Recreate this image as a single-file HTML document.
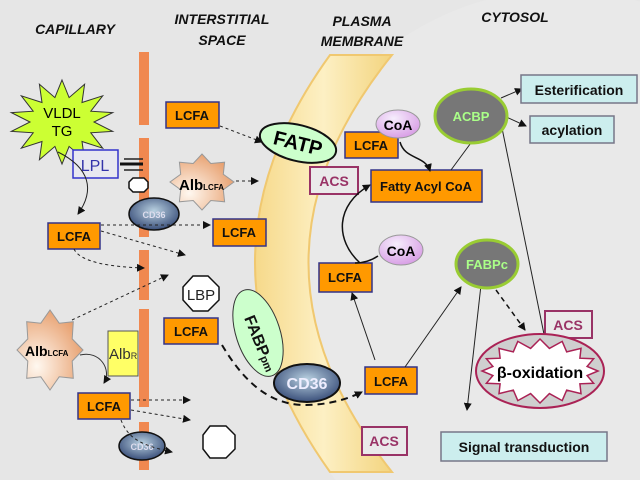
<!DOCTYPE html>
<html><head><meta charset="utf-8"><style>
html,body{margin:0;padding:0;background:#e6e6e6;width:640px;height:480px;overflow:hidden;}
svg{display:block;font-family:"Liberation Sans",Arial,sans-serif;}
</style></head><body>
<svg width="640" height="480" viewBox="0 0 640 480" xmlns="http://www.w3.org/2000/svg">
<defs>
<marker id="a" markerWidth="8" markerHeight="8" refX="7" refY="4" orient="auto" markerUnits="userSpaceOnUse"><path d="M0,0 L8,4 L0,8 z" fill="#111"/></marker>
<linearGradient id="mem" x1="0" y1="0" x2="1" y2="0"><stop offset="0" stop-color="#f6d98a"/><stop offset="0.5" stop-color="#fdf0c4"/><stop offset="1" stop-color="#f3d47e"/></linearGradient>
<radialGradient id="cd" cx="0.5" cy="0.4" r="0.6"><stop offset="0" stop-color="#b8d0e0"/><stop offset="1" stop-color="#3a4f7a"/></radialGradient>
<radialGradient id="alb" cx="0.3" cy="0.7" r="0.8"><stop offset="0" stop-color="#fff8f0"/><stop offset="1" stop-color="#e69a66"/></radialGradient>
<radialGradient id="coa" cx="0.4" cy="0.3" r="0.7"><stop offset="0" stop-color="#f6eefc"/><stop offset="1" stop-color="#d9a0e6"/></radialGradient>
</defs>
<rect width="640" height="480" fill="#e6e6e6"/>
<ellipse cx="560" cy="290" rx="290" ry="300" fill="#e9e9e9"/>

<g font-weight="bold" font-style="italic" font-size="14" fill="#111" text-anchor="middle">
<text x="75" y="34">CAPILLARY</text>
<text x="222" y="24">INTERSTITIAL</text><text x="222" y="45">SPACE</text>
<text x="362" y="26">PLASMA</text><text x="362" y="46">MEMBRANE</text>
<text x="515" y="22">CYTOSOL</text>
</g>

<path d="M330,55 Q180,262 330,472 L392,472 Q225,262 392,55 Z" fill="url(#mem)" stroke="#f0c870" stroke-width="2"/>

<g fill="#f08850">
<rect x="139" y="52" width="10" height="73"/>
<rect x="139" y="138" width="10" height="99"/>
<rect x="139" y="250" width="10" height="50"/>
<rect x="139" y="309" width="10" height="98"/>
<rect x="139" y="422" width="10" height="48"/>
</g>

<polygon points="62,80 69.1,97.6 84.6,84.2 82,102.5 102.7,95.8 90.8,111.2 112.7,112.6 94,122 112.7,131.4 90.8,132.8 102.7,148.2 82,141.5 84.6,159.8 69.1,146.4 62,164 54.9,146.4 39.4,159.8 42,141.5 21.3,148.2 33.2,132.8 11.3,131.4 30,122 11.3,112.6 33.2,111.2 21.3,95.8 42,102.5 39.4,84.2 54.9,97.6" fill="#ccff33" stroke="#333" stroke-width="1"/>
<text x="62" y="118" font-size="15" text-anchor="middle">VLDL</text>
<text x="62" y="136" font-size="15" text-anchor="middle">TG</text>

<rect x="73" y="150" width="45" height="28" fill="#e8e8f0" stroke="#3333cc" stroke-width="1.5"/>
<text x="95" y="171" font-size="16" fill="#3333aa" text-anchor="middle">LPL</text>
<line x1="124" y1="159" x2="143" y2="159" stroke="#222" stroke-width="1.5"/>
<line x1="120" y1="164" x2="143" y2="164" stroke="#111" stroke-width="3"/>
<line x1="124" y1="170" x2="143" y2="170" stroke="#222" stroke-width="1.5"/>
<polygon points="133,178 144,178 148,182 148,188 144,192 133,192 129,188 129,182" fill="#fff" stroke="#111" stroke-width="1.5"/>
<path d="M58,152 C90,168 95,190 78,214" fill="none" stroke="#222" stroke-width="1" marker-end="url(#a)"/>

<ellipse cx="154" cy="214" rx="25" ry="16" fill="url(#cd)" stroke="#111" stroke-width="1.5"/>
<text x="154" y="218" font-size="9" fill="#dde" text-anchor="middle" font-weight="bold">CD36</text>

<g fill="#ff9900" stroke="#333388" stroke-width="1.5">
<rect x="48" y="223" width="52" height="26"/>
<rect x="166" y="102" width="53" height="26"/>
<rect x="213" y="219" width="53" height="27"/>
<rect x="164" y="318" width="54" height="26"/>
<rect x="78" y="393" width="52" height="26"/>
<rect x="319" y="263" width="53" height="29"/>
<rect x="345" y="132" width="53" height="26"/>
<rect x="365" y="367" width="52" height="27"/>
<rect x="371" y="170" width="111" height="32"/>
</g>
<g font-size="13" font-weight="bold" fill="#111" text-anchor="middle">
<text x="74" y="241">LCFA</text>
<text x="192" y="120">LCFA</text>
<text x="239" y="237">LCFA</text>
<text x="191" y="336">LCFA</text>
<text x="104" y="411">LCFA</text>
<text x="345" y="282">LCFA</text>
<text x="371" y="150">LCFA</text>
<text x="391" y="386">LCFA</text>
<text x="426" y="191">Fatty Acyl CoA</text>
</g>

<polygon points="234,182 223.3,189.7 224.6,201.8 210.8,200.5 202,210 193.2,200.5 179.4,201.8 180.7,189.7 170,182 180.7,174.3 179.4,162.2 193.2,163.5 202,154 210.8,163.5 224.6,162.2 223.3,174.3" fill="url(#alb)" stroke="#999" stroke-width="1"/>
<text x="179" y="190" font-size="15" font-weight="bold">Alb<tspan font-size="8">LCFA</tspan></text>
<polygon points="83,350 72.2,361.1 73.3,378.3 59.2,376.8 50,390 40.8,376.8 26.7,378.3 27.8,361.1 17,350 27.8,338.9 26.7,321.7 40.8,323.2 50,310 59.2,323.2 73.3,321.7 72.2,338.9" fill="url(#alb)" stroke="#999" stroke-width="1"/>
<text x="25" y="356" font-size="14" font-weight="bold">Alb<tspan font-size="8">LCFA</tspan></text>

<rect x="108" y="331" width="30" height="45" fill="#ffff66" stroke="#555" stroke-width="1"/>
<text x="109" y="359" font-size="15" fill="#333">Alb<tspan font-size="9">R</tspan></text>
<path d="M80,355 C100,350 112,370 104,383" fill="none" stroke="#333" stroke-width="1" marker-end="url(#a)"/>

<polygon points="193,276 208,276 219,287 219,300 208,311 193,311 183,300 183,287" fill="#fff" stroke="#111" stroke-width="1.5"/>
<text x="201" y="300" font-size="15" text-anchor="middle" fill="#222">LBP</text>
<polygon points="210,426 226,426 235,435 235,449 226,458 210,458 203,449 203,435" fill="#fff" stroke="#111" stroke-width="1.5"/>

<ellipse cx="142" cy="446" rx="23" ry="14" fill="url(#cd)" stroke="#111" stroke-width="1.5"/>
<text x="142" y="450" font-size="9" fill="#dde" text-anchor="middle" font-weight="bold">CD36</text>

<g fill="none" stroke="#222" stroke-width="1" stroke-dasharray="3,3" marker-end="url(#a)">
<line x1="220" y1="126" x2="262" y2="142"/>
<line x1="236" y1="181" x2="258" y2="181"/>
<line x1="101" y1="225" x2="210" y2="225"/>
<line x1="101" y1="231" x2="185" y2="255"/>
<path d="M74,249 C80,262 110,267 144,268"/>
<line x1="72" y1="320" x2="168" y2="275"/>
<line x1="131" y1="400" x2="190" y2="400"/>
<line x1="131" y1="410" x2="190" y2="420"/>
<path d="M121,420 C128,438 140,445 172,452"/>
</g>
<path d="M222,345 C240,375 265,405 305,405 C330,405 350,398 362,392" fill="none" stroke="#111" stroke-width="2" stroke-dasharray="7,5" marker-end="url(#a)"/>

<ellipse cx="258" cy="333" rx="22" ry="45" transform="rotate(-18 258 333)" fill="#ccffcc" stroke="#333" stroke-width="1"/>
<text x="0" y="0" font-size="16" font-weight="bold" fill="#111" transform="translate(244,318) rotate(68)">FABP<tspan font-size="11">pm</tspan></text>

<ellipse cx="307" cy="383" rx="33" ry="19" fill="url(#cd)" stroke="#111" stroke-width="2"/>
<text x="307" y="389" font-size="16" fill="#eef" text-anchor="middle" font-weight="bold">CD36</text>

<ellipse cx="298" cy="143" rx="39" ry="18" transform="rotate(14 298 143)" fill="#ccffcc" stroke="#111" stroke-width="2"/>
<text x="298" y="150" font-size="20" font-weight="bold" text-anchor="middle" transform="rotate(14 298 143)">FATP</text>

<g fill="#eaeaea" stroke="#993366" stroke-width="2">
<rect x="310" y="167" width="48" height="27"/>
<rect x="362" y="427" width="45" height="28"/>
<rect x="545" y="311" width="47" height="27"/>
</g>
<g font-size="14" font-weight="bold" fill="#993366" text-anchor="middle">
<text x="334" y="186">ACS</text><text x="384" y="446">ACS</text><text x="568" y="330">ACS</text>
</g>

<ellipse cx="398" cy="124" rx="22" ry="14" fill="url(#coa)" stroke="#999" stroke-width="1"/>
<text x="398" y="130" font-size="14" font-weight="bold" text-anchor="middle">CoA</text>
<ellipse cx="401" cy="250" rx="22" ry="15" fill="url(#coa)" stroke="#999" stroke-width="1"/>
<text x="401" y="256" font-size="14" font-weight="bold" text-anchor="middle">CoA</text>

<g fill="none" stroke="#111" stroke-width="1.5" marker-end="url(#a)">
<path d="M400,142 C405,160 425,155 430,171"/>
<path d="M360,263 C335,240 335,205 370,185"/>
</g>
<path d="M355,263 C365,263 372,260 378,256" fill="none" stroke="#111" stroke-width="1.5"/>
<g fill="none" stroke="#222" stroke-width="1" marker-end="url(#a)">
<line x1="451" y1="170" x2="476" y2="136"/>
<line x1="501" y1="98" x2="522" y2="89"/>
<line x1="502" y1="115" x2="526" y2="126"/>
<line x1="502" y1="128" x2="546" y2="344"/>
<line x1="375" y1="360" x2="352" y2="293"/>
<line x1="405" y1="367" x2="461" y2="287"/>
<line x1="481" y1="285" x2="467" y2="410"/>
</g>
<line x1="496" y1="290" x2="525" y2="330" stroke="#111" stroke-width="1.5" stroke-dasharray="5,4" marker-end="url(#a)"/>

<ellipse cx="471" cy="116" rx="36" ry="27" fill="#777" stroke="#99cc33" stroke-width="3"/>
<text x="471" y="121" font-size="13" font-weight="bold" fill="#aaff88" text-anchor="middle">ACBP</text>
<ellipse cx="487" cy="264" rx="31" ry="24" fill="#777" stroke="#99cc33" stroke-width="3"/>
<text x="487" y="269" font-size="13" font-weight="bold" fill="#aaff88" text-anchor="middle">FABPc</text>

<g fill="#cceeee" stroke="#778" stroke-width="1.5">
<rect x="521" y="75" width="116" height="28"/>
<rect x="530" y="116" width="84" height="27"/>
<rect x="441" y="432" width="166" height="29"/>
</g>
<g font-size="14" font-weight="bold" fill="#111" text-anchor="middle">
<text x="579" y="95">Esterification</text>
<text x="572" y="135">acylation</text>
<text x="524" y="452">Signal transduction</text>
</g>

<ellipse cx="540" cy="371" rx="64" ry="37" fill="#cfcfcf" stroke="#aa2255" stroke-width="2"/>
<polygon points="598,371 587.1,375.5 593.6,383.3 579.9,383.8 581,393.6 566.7,390.1 562.2,400.6 549.4,393.6 540,403 530.6,393.6 517.8,400.6 513.3,390.1 499,393.6 500.1,383.8 486.4,383.3 492.9,375.5 482,371 492.9,366.5 486.4,358.7 500.1,358.2 499,348.4 513.3,351.9 517.8,341.4 530.6,348.4 540,339 549.4,348.4 562.2,341.4 566.7,351.9 581,348.4 579.9,358.2 593.6,358.7 587.1,366.5" fill="#fff" stroke="#aa2255" stroke-width="1.5"/>
<text x="540" y="378" font-size="16" font-weight="bold" text-anchor="middle">β-oxidation</text>
</svg>
</body></html>
